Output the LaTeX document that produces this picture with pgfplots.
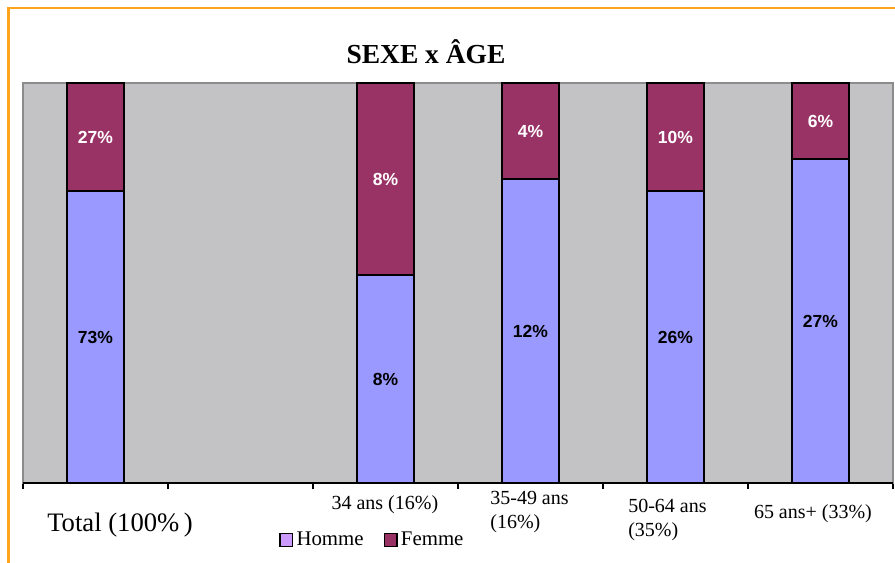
\documentclass[border=0pt]{standalone}
\usepackage{fontspec}
\setmainfont{Liberation Serif}
\setsansfont{Liberation Sans}
\usepackage{pgfplots}
\pgfplotsset{compat=1.18}
\definecolor{homme}{HTML}{9999FF}
\definecolor{hommeleg}{HTML}{CC99FF}
\definecolor{femme}{HTML}{993366}
\definecolor{fond}{HTML}{C3C2C5}
\definecolor{cadre}{HTML}{FFA31A}

\begin{document}
\begin{tikzpicture}
\begin{axis}[
  scale only axis, width=522pt, height=240pt,
  xmin=-0.5, xmax=5.5, ymin=0, ymax=100,
  ybar stacked, bar width=0.393,
  axis background/.style={fill=fond},
  axis line style={draw=black!45, line width=0.9pt},
  xtick={-0.5,0.5,...,5.5}, xticklabel=\empty, xtick pos=bottom,
  tick align=outside, major tick length=3.6pt,
  xtick style={black, line width=0.7pt},
  ytick=\empty,
  clip=false,
  nodes near coords, point meta=explicit symbolic,
  every node near coord/.append style={anchor=center,
    font=\sffamily\bfseries\fontsize{10.5}{12}\selectfont},
  legend style={at={(rel axis cs:0.4023,-0.1425)}, anchor=center,
    draw=none, fill=none, legend columns=2, inner sep=0pt,
    font=\fontsize{12.5}{14}\selectfont,
    /tikz/every even column/.append style={column sep=10pt}},
]
% Homme (bas)
\addplot[fill=homme, draw=black, line width=1.1pt,
  every node near coord/.append style={text=black},
  legend image code/.code={\draw[fill=hommeleg, draw=black, line width=0.8pt] (0pt,-3.8pt) rectangle (7.6pt,3.8pt);}]
  coordinates {(0,73) [73\%] (2,52) [8\%] (3,76) [12\%] (4,73) [26\%] (5,81) [27\%]};
% Femme (haut)
\addplot[fill=femme, draw=black, line width=1.1pt,
  every node near coord/.append style={text=white},
  legend image code/.code={\draw[fill=femme, draw=black, line width=0.8pt] (0pt,-3.8pt) rectangle (7.6pt,3.8pt);}]
  coordinates {(0,27) [27\%] (2,48) [8\%] (3,24) [4\%] (4,27) [10\%] (5,19) [6\%]};
\legend{Homme, Femme}

\draw[black, line width=1pt] (rel axis cs:0,0) -- (rel axis cs:1,0);
\draw[cadre, line width=1.3pt] (rel axis cs:-0.01667,-0.3) -- (rel axis cs:-0.01667,1.1875) -- (rel axis cs:1.1,1.1875);

\node[font=\fontsize{16.5}{19}\selectfont\bfseries] at (rel axis cs:0.4632,1.0775) {SEXE x ÂGE};
\node[font=\fontsize{16}{19}\selectfont] at (rel axis cs:0.1115,-0.105) {Total (100\%\,)};
\node[font=\fontsize{12}{14}\selectfont] at (rel axis cs:0.416,-0.055) {34 ans (16\%)};
\node[font=\fontsize{12}{14}\selectfont, anchor=west, align=left, inner sep=0pt] at (rel axis cs:0.5368,-0.0725) {35-49 ans\\(16\%)};
\node[font=\fontsize{12}{14}\selectfont, anchor=west, align=left, inner sep=0pt] at (rel axis cs:0.6954,-0.0925) {50-64 ans\\(35\%)};
\node[font=\fontsize{12}{14}\selectfont] at (rel axis cs:0.908,-0.0775) {65 ans+ (33\%)};

\coordinate (bbsw) at (rel axis cs:-0.02644,-0.2);
\coordinate (bbne) at (rel axis cs:1.0023,1.2075);
\end{axis}
\pgfresetboundingbox
\useasboundingbox (bbsw) rectangle (bbne);
\end{tikzpicture}
\end{document}
